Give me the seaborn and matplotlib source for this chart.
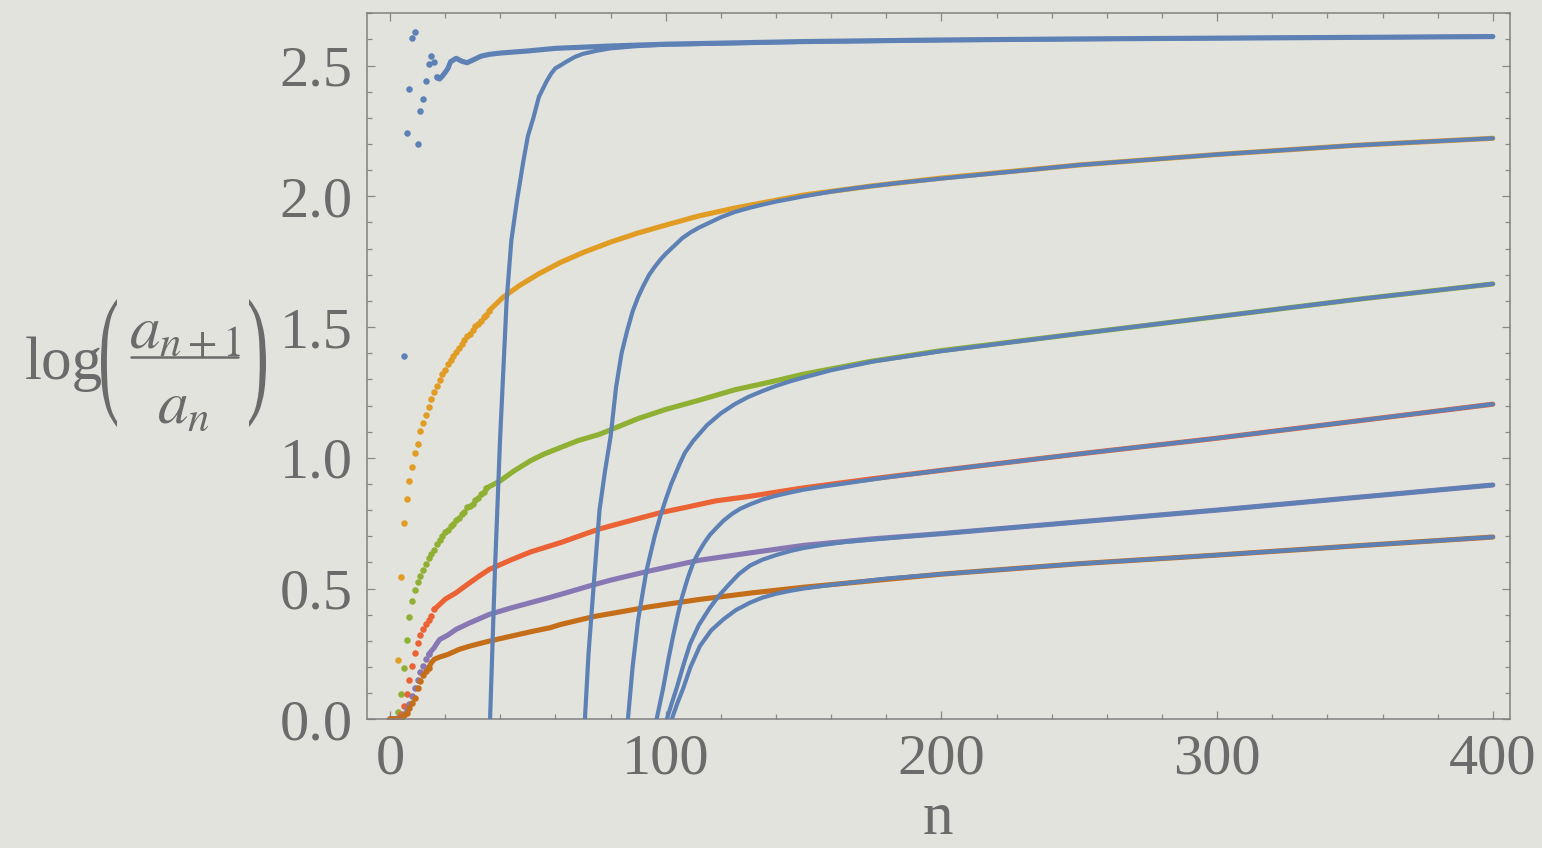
import matplotlib
matplotlib.use("Agg")
import matplotlib.pyplot as plt
from matplotlib.ticker import MultipleLocator, FormatStrFormatter
from matplotlib.textpath import TextPath
from matplotlib.patches import PathPatch
from matplotlib.font_manager import FontProperties
from matplotlib.transforms import Affine2D, IdentityTransform
from matplotlib.lines import Line2D
import seaborn as sns

# ---- dotted series log(a_{n+1}/a_n) ----
blue_n = list(range(17)) + [17, 18, 19, 20, 21, 22, 24, 26, 28, 30, 33, 36, 40, 50, 60,
                            80, 100, 150, 200, 250, 300, 350, 400]
blue_v = [0, 0, 0, 0, 0, 1.390, 2.241, 2.411, 2.605, 2.628, 2.202, 2.327, 2.373, 2.442,
          2.505, 2.536, 2.512,
          2.457, 2.449, 2.460, 2.474, 2.489, 2.515, 2.528, 2.517, 2.511, 2.521, 2.536,
          2.543, 2.548, 2.556, 2.566, 2.575, 2.582, 2.592, 2.598, 2.602, 2.605, 2.608, 2.611]

orange_n = list(range(37)) + [41, 47, 54, 62, 70, 80, 90, 100, 112, 125, 150, 175, 200,
                              250, 300, 350, 400]
orange_v = [0, 0, 0, 0.228, 0.545, 0.751, 0.843, 0.912, 0.966, 1.019, 1.054, 1.103,
            1.134, 1.164, 1.195, 1.226, 1.250, 1.273, 1.296, 1.319, 1.334, 1.359, 1.374,
            1.389, 1.405, 1.420, 1.435, 1.451, 1.466, 1.474, 1.489, 1.504, 1.512, 1.522,
            1.537, 1.548, 1.563,
            1.614, 1.659, 1.704, 1.748, 1.785, 1.825, 1.86, 1.89, 1.925, 1.955, 2.005,
            2.04, 2.07, 2.12, 2.16, 2.195, 2.222]

green_n = list(range(36)) + [40, 45, 51, 56, 62, 68, 76, 90, 100, 112, 125, 138, 150, 175,
                             200, 250, 300, 350, 400]
green_v = [0, 0, 0, 0.028, 0.097, 0.197, 0.305, 0.391, 0.452, 0.493, 0.524, 0.547, 0.570,
           0.593, 0.616, 0.631, 0.646, 0.669, 0.685, 0.700, 0.716, 0.723, 0.739, 0.748,
           0.764, 0.771, 0.784, 0.794, 0.810, 0.817, 0.825, 0.838, 0.848, 0.861, 0.871,
           0.884,
           0.912, 0.95, 0.989, 1.015, 1.04, 1.065, 1.09, 1.15, 1.185, 1.22, 1.26, 1.29,
           1.32, 1.37, 1.41, 1.475, 1.54, 1.605, 1.665]

red_n = list(range(17)) + [18, 20, 24, 28, 32, 36, 44, 51, 58, 62, 70, 76, 88, 98, 108,
                           118, 130, 150, 175, 200, 250, 300, 350, 400]
red_v = [0, 0, 0, 0.005, 0.02, 0.05, 0.097, 0.151, 0.204, 0.253, 0.29, 0.322, 0.344,
         0.364, 0.379, 0.396, 0.42,
         0.439, 0.459, 0.484, 0.515, 0.545, 0.573, 0.61, 0.64, 0.663, 0.676, 0.706, 0.728,
         0.762, 0.79, 0.812, 0.835, 0.852, 0.885, 0.92, 0.952, 1.015, 1.075, 1.14, 1.205]

purple_n = list(range(19)) + [21, 24, 29, 36, 44, 51, 58, 62, 74, 80, 94, 112, 131, 150,
                              175, 200, 250, 300, 350, 400]
purple_v = [0, 0, 0, 0.003, 0.01, 0.02, 0.04, 0.059, 0.088, 0.12, 0.151, 0.181, 0.203,
            0.229, 0.248, 0.261, 0.273, 0.29, 0.305,
            0.322, 0.344, 0.369, 0.401, 0.426, 0.446, 0.466, 0.478, 0.515, 0.532, 0.567,
            0.608, 0.637, 0.665, 0.69, 0.71, 0.755, 0.80, 0.848, 0.896]

dkorange_n = list(range(17)) + [18, 21, 25, 29, 36, 44, 52, 58, 62, 74, 94, 112, 131, 150,
                                175, 200, 250, 300, 350, 400]
dkorange_v = [0, 0, 0, 0.002, 0.008, 0.015, 0.025, 0.043, 0.062, 0.082, 0.118, 0.146,
              0.171, 0.184, 0.197, 0.216, 0.229,
              0.238, 0.248, 0.267, 0.28, 0.299, 0.318, 0.337, 0.35, 0.363, 0.393, 0.43,
              0.458, 0.483, 0.505, 0.53, 0.555, 0.595, 0.628, 0.663, 0.697]

# ---- blue asymptotic curves (they drop to -inf at small n) ----
c1_n = [36.0, 36.3, 38, 39.9, 42.3, 44, 46, 48.3, 50, 52, 54, 56.8, 58.5, 60, 61.7, 63.5,
        67, 70, 75, 80, 90, 100, 150, 200, 250, 300, 350, 400]
c1_v = [-0.3, 0, 0.55, 1.065, 1.60, 1.83, 1.98, 2.13, 2.23, 2.30, 2.38, 2.44, 2.47, 2.49,
        2.50, 2.512, 2.533, 2.545, 2.557, 2.566, 2.575, 2.58, 2.591, 2.597, 2.601, 2.605,
        2.608, 2.611]

c2_n = [70.4, 70.7, 72, 74, 76, 78, 80, 82, 84, 86, 88, 90, 92, 94, 96, 98, 100, 103, 106,
        109, 112, 116, 120, 125, 130, 135, 140, 145, 150, 160, 170, 185, 200, 250, 300,
        350, 400]
c2_v = [-0.2, 0, 0.25, 0.53, 0.80, 0.95, 1.08, 1.27, 1.40, 1.485, 1.56, 1.615, 1.66, 1.70,
        1.73, 1.757, 1.78, 1.81, 1.84, 1.862, 1.88, 1.90, 1.92, 1.94, 1.955, 1.968, 1.98,
        1.99, 2.0, 2.018, 2.033, 2.052, 2.068, 2.12, 2.16, 2.195, 2.222]

c3_n = [86.0, 86.3, 88, 90, 93, 96, 98, 100, 102, 105, 107, 110, 115, 120, 125, 130, 135,
        140, 145, 150, 160, 175, 200, 250, 300, 350, 400]
c3_v = [-0.2, 0, 0.2, 0.38, 0.567, 0.70, 0.775, 0.84, 0.90, 0.975, 1.02, 1.065, 1.125,
        1.17, 1.205, 1.233, 1.255, 1.275, 1.292, 1.307, 1.335, 1.368, 1.408, 1.475, 1.54,
        1.605, 1.665]

c4_n = [96.4, 96.7, 98, 99.1, 101, 102.8, 104.5, 106, 108, 110, 112, 114, 116, 118.5, 121,
        124, 127, 130.6, 135, 140, 145, 150, 157, 165, 180, 200, 250, 300, 350, 400]
c4_v = [-0.2, 0, 0.065, 0.12, 0.23, 0.324, 0.405, 0.47, 0.54, 0.599, 0.64, 0.675, 0.705,
        0.733, 0.76, 0.785, 0.805, 0.822, 0.84, 0.855, 0.867, 0.878, 0.89, 0.902, 0.925,
        0.952, 1.015, 1.075, 1.14, 1.205]

c5_n = [100.1, 100.4, 102, 104, 106.5, 108.8, 112, 116, 119.5, 123, 126.5, 130.6, 135, 140,
        145, 150, 157, 165, 180, 200, 250, 300, 350, 400]
c5_v = [-0.2, 0, 0.055, 0.12, 0.21, 0.287, 0.36, 0.426, 0.475, 0.516, 0.555, 0.588, 0.61,
        0.628, 0.643, 0.655, 0.667, 0.678, 0.692, 0.71, 0.755, 0.80, 0.848, 0.896]

c6_n = [101.9, 102.2, 104, 106.4, 109, 112.4, 116.5, 120.9, 125.5, 130.6, 135, 140, 145,
        150, 157, 165, 180, 200, 250, 300, 350, 400]
c6_v = [-0.2, 0, 0.055, 0.12, 0.2, 0.28, 0.34, 0.382, 0.418, 0.446, 0.465, 0.48, 0.491,
        0.5, 0.51, 0.52, 0.538, 0.555, 0.595, 0.628, 0.663, 0.697]

BG = "#e3e3de"
GRAY = "#6b6b6b"
BLUE = "#5e81b5"
W, H = 1542, 848

sns.set_style("ticks")
plt.rcParams["font.family"] = ["Liberation Serif", "DejaVu Serif"]
plt.rcParams["mathtext.fontset"] = "stix"

fig = plt.figure(figsize=(W / 100, H / 100), dpi=100, facecolor=BG)
ax = fig.add_axes([0.2378, 0.1518, 0.7414, 0.8325])
ax.set_facecolor(BG)

# (n, values, colour, n where the dots get dense enough to read as a line)
series = [
    (blue_n, blue_v, BLUE, 17),
    (orange_n, orange_v, "#e19c24", 36),
    (green_n, green_v, "#8fb032", 35),
    (red_n, red_v, "#eb6235", 16),
    (purple_n, purple_v, "#8778b3", 14),
    (dkorange_n, dkorange_v, "#c56e1a", 14),
]
for i, (ns, vs, col, cut) in enumerate(series):
    dn = [n for n in ns if n <= cut]
    dv = [v for n, v in zip(ns, vs) if n <= cut]
    tn = [n for n in ns if n >= cut]
    tv = [v for n, v in zip(ns, vs) if n >= cut]
    sns.scatterplot(x=dn, y=dv, ax=ax, color=col, s=22, linewidth=0, zorder=2 + i * 0.1)
    sns.lineplot(x=tn, y=tv, ax=ax, color=col, lw=3.7, sort=False, estimator=None,
                 solid_joinstyle="round", solid_capstyle="round", zorder=2 + i * 0.1)

for cn, cv in [(c1_n, c1_v), (c2_n, c2_v), (c3_n, c3_v), (c4_n, c4_v), (c5_n, c5_v),
               (c6_n, c6_v)]:
    sns.lineplot(x=cn, y=cv, ax=ax, color=BLUE, lw=3.0, sort=False, estimator=None,
                 solid_joinstyle="round", zorder=4)

ax.set_xlim(-8.45, 406.2)
ax.set_ylim(0, 2.70)
ax.xaxis.set_major_locator(MultipleLocator(100))
ax.xaxis.set_minor_locator(MultipleLocator(20))
ax.yaxis.set_major_locator(MultipleLocator(0.5))
ax.yaxis.set_minor_locator(MultipleLocator(0.1))
ax.yaxis.set_major_formatter(FormatStrFormatter("%.1f"))
ax.tick_params(which="both", direction="in", top=True, right=True, color="#888888",
               width=0.9, labelsize=42, labelcolor=GRAY, pad=10)
ax.tick_params(which="major", length=6)
ax.tick_params(which="minor", length=3.6)
for sp in ax.spines.values():
    sp.set_color("#808080")
    sp.set_linewidth(1.1)
ax.set_xlabel("")
ax.set_ylabel("")

# x label, kept just inside the bottom edge
fig.text(938 / W, 1 / H, "n", ha="center", va="bottom", fontsize=44, color=GRAY)


# y label log(a_{n+1}/a_n), put together piece by piece (pixel positions from the top)
def ftxt(x, y, s, **kw):
    fig.text(x / W, 1 - y / H, s, color=GRAY, **kw)


def paren(ch, x0, x1, y0, y1):
    tp = TextPath((0, 0), ch, size=100, prop=FontProperties(family="Liberation Serif"))
    ext = tp.get_extents()
    tr = (Affine2D().translate(-ext.x0, -ext.y0)
          .scale((x1 - x0) / ext.width, (y1 - y0) / ext.height)
          .translate(x0, H - y1))
    fig.add_artist(PathPatch(tr.transform_path(tp), transform=IdentityTransform(),
                             fc=GRAY, ec="none"))


ftxt(25, 379, "log", ha="left", va="baseline", fontsize=44)
paren("(", 101, 117, 299, 427)
paren(")", 249, 266, 299, 427)
ftxt(185, 347, r"$a_{n+1}$", ha="center", va="baseline", fontsize=44)
ftxt(183, 423, r"$a_n$", ha="center", va="baseline", fontsize=44)
fig.add_artist(Line2D([131 / W, 238 / W], [1 - 357 / H, 1 - 357 / H],
                      transform=fig.transFigure, color=GRAY, lw=1.8))

fig.savefig("out.png", dpi=100, facecolor=BG)
